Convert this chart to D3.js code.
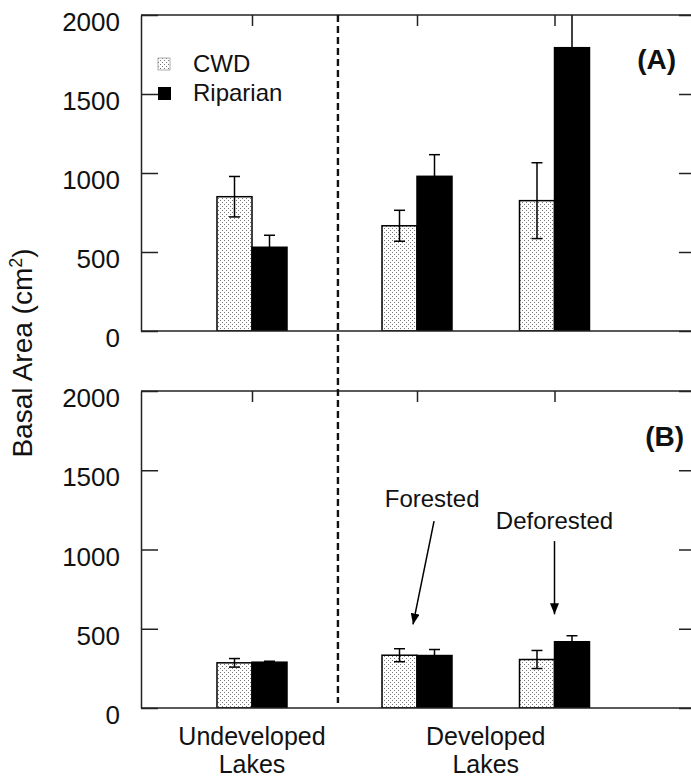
<!DOCTYPE html>
<html>
<head>
<meta charset="utf-8">
<script src="https://cdn.jsdelivr.net/npm/d3@7"></script>
<style>
body { margin: 0; background: #fff; }
svg text { font-family: "Liberation Sans", Arial, Helvetica, sans-serif; fill: #111; }
</style>
</head>
<body>
<div id="chart"><svg></svg></div>
<script>
var groups = ["Undeveloped", "Forested", "Deforested"];
var series = ["CWD", "Riparian"];
var yTicks = [0, 500, 1000, 1500, 2000];

// (A) basal area, mean and SE
var cwdA = [850, 666, 825];
var cwdErrA = [128, 98, 240];
var ripA = [530, 979, 1793];
var ripErrA = [76, 137, 260];

// (B)
var cwdB = [285, 333, 306];
var cwdErrB = [27, 41, 57];
var ripB = [289, 331, 418];
var ripErrB = [6, 38, 38];

var xLabels = [["Undeveloped", "Lakes"], ["Developed", "Lakes"]];

var width = 691, height = 780;
var left = 141, right = 693;
var groupPos = [1, 2.2, 3.2];
var divider = 1.625;

var x = d3.scaleLinear().domain([0, 4]).range([114.5, 664.5]);
var inner = d3.scaleBand().domain(series).range([-35, 35]);

var svg = d3.select("#chart svg").
  attr("width", width).
  attr("height", height);

var defs = svg.append("defs");

var pat = defs.append("pattern").
  attr("id", "dots").
  attr("width", 4).
  attr("height", 4).
  attr("patternUnits", "userSpaceOnUse");
pat.append("rect").attr("width", 4).attr("height", 4).attr("fill", "#fff");
pat.append("rect").attr("x", 0).attr("y", 0).attr("width", 1).attr("height", 1).attr("fill", "#777");
pat.append("rect").attr("x", 2).attr("y", 2).attr("width", 1).attr("height", 1).attr("fill", "#777");

defs.append("marker").
  attr("id", "arrow").
  attr("markerUnits", "userSpaceOnUse").
  attr("markerWidth", 11).
  attr("markerHeight", 9).
  attr("refX", 11).
  attr("refY", 4.5).
  attr("orient", "auto").
  append("path").
  attr("d", "M0,0L11,4.5L0,9Z").
  attr("fill", "#000");

var build = function(opts) {
  var y = d3.scaleLinear().domain([0, 2000]).range([opts.bottom, opts.top]);

  defs.append("clipPath").
    attr("id", "clip" + opts.label).
    append("rect").
    attr("x", left).attr("y", opts.top).
    attr("width", right - left).attr("height", opts.bottom - opts.top);

  var rows = [];
  for (var i = 0; i < groups.length; i++) {
    rows.push({ g: i, key: "CWD", value: opts.cwd[i], err: opts.cwdErr[i] });
    rows.push({ g: i, key: "Riparian", value: opts.rip[i], err: opts.ripErr[i] });
  }

  var g = svg.append("g").attr("clip-path", "url(#clip" + opts.label + ")");

  g.selectAll("rect.bar").
    data(rows).
    enter().append("rect").
    attr("class", "bar").
    attr("x", function(d) { return x(groupPos[d.g]) + inner(d.key); }).
    attr("width", inner.bandwidth()).
    attr("y", function(d) { return y(d.value); }).
    attr("height", function(d) { return y(0) - y(d.value); }).
    attr("fill", function(d) { return d.key === "CWD" ? "url(#dots)" : "#000"; }).
    attr("stroke", "#000").
    attr("stroke-width", 1.5);

  var err = g.selectAll("g.err").
    data(rows).
    enter().append("g").
    attr("class", "err").
    attr("transform", function(d) {
      return "translate(" + (x(groupPos[d.g]) + inner(d.key) + inner.bandwidth() / 2) + ",0)";
    }).
    attr("stroke", "#000").
    attr("stroke-width", 1.5);

  err.append("line").
    attr("y1", function(d) { return y(d.value - d.err); }).
    attr("y2", function(d) { return y(d.value + d.err); });
  err.append("line").
    attr("x1", -5.5).attr("x2", 5.5).
    attr("y1", function(d) { return y(d.value + d.err); }).
    attr("y2", function(d) { return y(d.value + d.err); });
  err.append("line").
    attr("x1", -5.5).attr("x2", 5.5).
    attr("y1", function(d) { return y(d.value - d.err); }).
    attr("y2", function(d) { return y(d.value - d.err); });

  // frame
  svg.append("line").
    attr("x1", left).attr("x2", right).
    attr("y1", y(2000)).attr("y2", y(2000)).
    attr("stroke", "#222").attr("stroke-width", 1.5);
  svg.append("line").
    attr("x1", left).attr("x2", right).
    attr("y1", y(0)).attr("y2", y(0)).
    attr("stroke", "#222").attr("stroke-width", 1.5);

  var yAxis = d3.axisLeft(y).
    tickValues(yTicks).
    tickFormat(d3.format("d")).
    tickSizeInner(-17).
    tickSizeOuter(0).
    tickPadding(21);

  var gY = svg.append("g").
    attr("transform", "translate(" + left + ",0)").
    call(yAxis);
  gY.selectAll("path, line").attr("stroke", "#222").attr("stroke-width", 1.5);
  gY.selectAll("text").
    attr("dy", "0.6em").
    style("font-size", "26px").
    attr("fill", "#111");

  var gR = svg.append("g").
    attr("transform", "translate(" + right + ",0)").
    call(d3.axisRight(y).tickValues(yTicks).tickSizeInner(-14).tickSizeOuter(0).tickFormat(""));
  gR.select(".domain").remove();
  gR.selectAll("line").attr("stroke", "#222").attr("stroke-width", 1.5);

  var gT = svg.append("g").
    attr("transform", "translate(0," + y(2000) + ")").
    call(d3.axisTop(x).tickValues(groupPos).tickSizeInner(-11).tickSizeOuter(0).tickFormat(""));
  gT.select(".domain").remove();
  gT.selectAll("line").attr("stroke", "#222").attr("stroke-width", 1.5);

  svg.append("text").
    attr("x", opts.labelX).
    attr("y", y(2000) + opts.labelDy).
    attr("text-anchor", "end").
    style("font-size", "28px").
    style("font-weight", "bold").
    attr("fill", "#000").
    text("(" + opts.label + ")");

  return y;
};

var yA = build({ label: "A", top: 15, bottom: 331, cwd: cwdA, cwdErr: cwdErrA, rip: ripA, ripErr: ripErrA, labelX: 676, labelDy: 54 });
var yB = build({ label: "B", top: 391, bottom: 708, cwd: cwdB, cwdErr: cwdErrB, rip: ripB, ripErr: ripErrB, labelX: 684, labelDy: 55 });

// dashed divider between undeveloped and developed
svg.append("line").
  attr("x1", x(divider)).attr("x2", x(divider)).
  attr("y1", yA(2000)).attr("y2", yB(0) - 5).
  attr("stroke", "#111").
  attr("stroke-width", 2.4).
  attr("stroke-dasharray", "7,4");

// legend
var legend = svg.append("g");
legend.append("rect").
  attr("x", 158).attr("y", 58).attr("width", 12).attr("height", 12).
  attr("fill", "url(#dots)").attr("stroke", "#999").attr("stroke-width", 0.8);
legend.append("rect").
  attr("x", 158).attr("y", 87).attr("width", 13).attr("height", 13).
  attr("fill", "#000");
legend.selectAll("text").
  data(series).
  enter().append("text").
  attr("x", 193).
  attr("y", function(d, i) { return 72 + i * 29; }).
  style("font-size", "24px").
  text(function(d) { return d; });

// annotations in panel B
var notes = [
  { text: "Forested", tx: 2.31, ty: 1268, x1: 2.324, y1: 1179, x2: 2.171, y2: 527 },
  { text: "Deforested", tx: 3.2, ty: 1128, x1: 3.2, y1: 1053, x2: 3.2, y2: 591 }
];
notes.forEach(function(n) {
  svg.append("text").
    attr("x", x(n.tx)).
    attr("y", yB(n.ty)).
    attr("text-anchor", "middle").
    style("font-size", "24px").
    text(n.text);
  svg.append("line").
    attr("x1", x(n.x1)).attr("y1", yB(n.y1)).
    attr("x2", x(n.x2)).attr("y2", yB(n.y2)).
    attr("stroke", "#000").attr("stroke-width", 1.5).
    attr("marker-end", "url(#arrow)");
});

// x labels, two lines each
var labelPos = [groupPos[0], (groupPos[1] + groupPos[2]) / 2];
xLabels.forEach(function(lines, i) {
  lines.forEach(function(s, j) {
    svg.append("text").
      attr("x", x(labelPos[i])).
      attr("y", 745 + j * 28).
      attr("text-anchor", "middle").
      style("font-size", "25px").
      text(s);
  });
});

// y label
var yl = svg.append("text").
  attr("transform", "translate(32,353) rotate(-90)").
  attr("text-anchor", "middle").
  style("font-size", "28px");
yl.append("tspan").text("Basal Area (cm");
yl.append("tspan").attr("baseline-shift", "super").style("font-size", "18px").text("2");
yl.append("tspan").text(")");
</script>
</body>
</html>
